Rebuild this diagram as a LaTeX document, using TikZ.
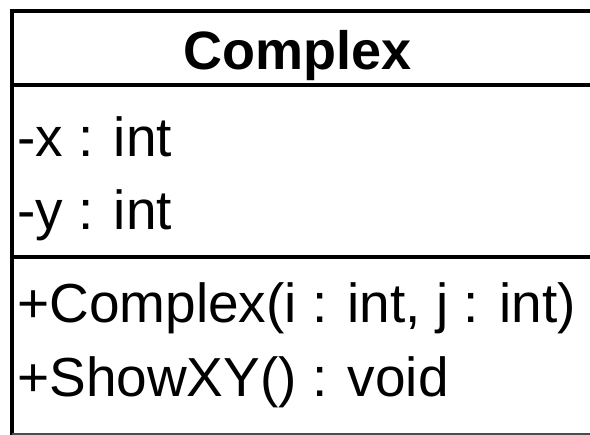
\documentclass[tikz,border=0pt]{standalone}
\usepackage{fontspec}
\setmainfont{Liberation Sans}
\begin{document}
\begin{tikzpicture}[x=1pt,y=1pt,
  umlline/.style={line width=4pt,black},
  member/.style={anchor=base west,inner sep=0pt,font=\fontsize{55}{60}\selectfont},
  title/.style={anchor=base,inner sep=0pt,font=\fontsize{54}{60}\selectfont\bfseries}]
\useasboundingbox (0,0) rectangle (590,435);
\fill[white] (0,0) rectangle (590,435);
\coordinate (tl) at (11.5,424);
\coordinate (tr) at (600,424);
\coordinate (s1l) at (11.5,350);
\coordinate (s1r) at (600,350);
\coordinate (s2l) at (11.5,178);
\coordinate (s2r) at (600,178);
\coordinate (bl) at (11.5,0);
\coordinate (br) at (600,0);
\draw[umlline] (tr) -- (tl) -- (bl);
\draw[line width=4pt,black!70] (bl) -- (br);
\draw[umlline] (s1l) -- (s1r);
\draw[umlline] (s2l) -- (s2r);
\node[title] (name) at (298,365) {Complex};
\node[member] (ax) at (17,278) {-x : int};
\node[member] (ay) at (17,205) {-y : int};
\node[member] (m1) at (17,112) {+Complex(i : int, j : int)};
\node[member] (m2) at (17,38) {+ShowXY() : void};
\end{tikzpicture}
\end{document}
